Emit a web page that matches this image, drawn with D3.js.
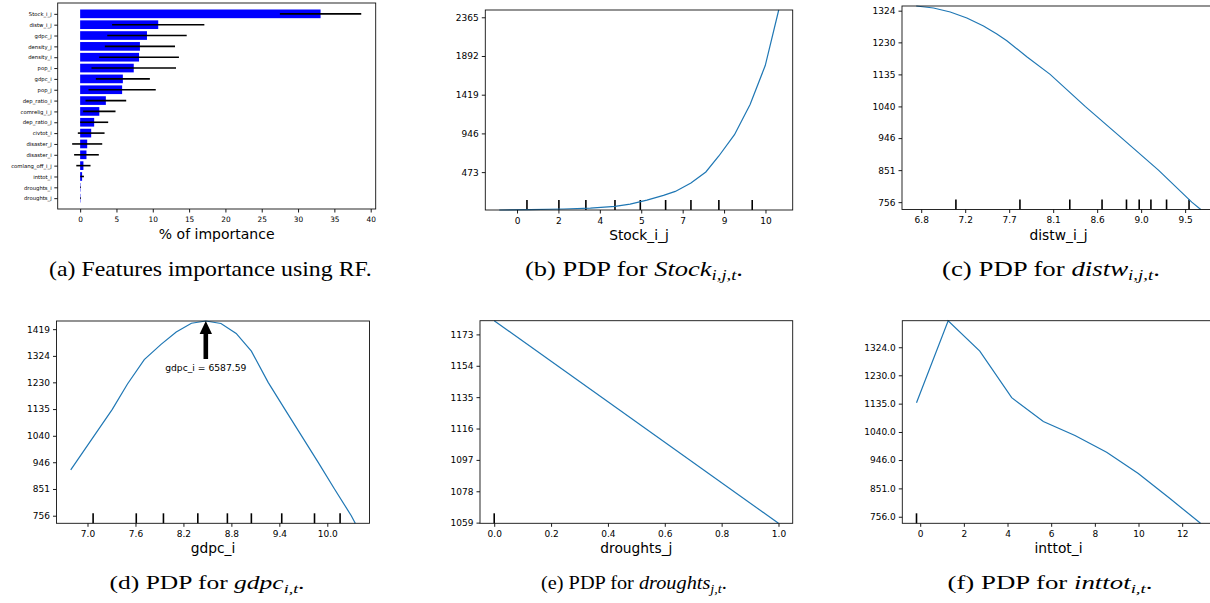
<!DOCTYPE html>
<html>
<head>
<meta charset="utf-8">
<script src="https://cdn.jsdelivr.net/npm/d3@7"></script>
<style>
  html, body { margin: 0; padding: 0; background: #fff; }
  svg { display: block; }
  .tick text { font-family: "DejaVu Sans", sans-serif; fill: #000; }
  .tick line { stroke: #000; stroke-width: 0.9; }
  .axis-label { font-family: "DejaVu Sans", sans-serif; fill: #000; }
  .caption { font-family: "Liberation Serif", "Times New Roman", serif; fill: #000; }
</style>
</head>
<body>
<svg id="fig" width="1210" height="603"></svg>
<script>
// (a) importance RF
const features = ["Stock_i_j", "distw_i_j", "gdpc_j", "density_j", "density_i", "pop_i", "gdpc_i", "pop_j",
  "dep_ratio_i", "comrelig_i_j", "dep_ratio_j", "civtot_i", "disaster_j", "disaster_i", "comlang_off_i_j",
  "inttot_i", "droughts_i", "droughts_j"];
const importance = [33.1, 10.75, 9.2, 8.23, 8.11, 7.38, 5.88, 5.78, 3.54, 2.64, 1.93, 1.52, 0.97, 0.87, 0.45, 0.27, 0.05, 0.05];
const importanceErr = [5.6, 6.35, 5.47, 4.83, 5.49, 5.82, 3.72, 4.63, 2.8, 2.23, 1.93, 1.84, 2.07, 1.7, 0.98, 0.25, 0.05, 0.05];
const importanceTicks = [0, 5, 10, 15, 20, 25, 30, 35, 40];

// (b) Stock_i_j
const stockX = [-0.75, 0.56, 1.97, 3.10, 4.14, 4.78, 5.49, 6.19, 6.69, 7.35, 7.98, 8.53, 9.19, 9.85, 10.49, 11.06];
const stockY = [10, 14, 22, 34, 55, 82, 130, 188, 237, 340, 475, 670, 930, 1300, 1775, 2454];
const stockRug = [0.42, 1.77, 2.91, 4.14, 5.21, 6.28, 7.35, 8.53, 9.94];
const stockXTicks = [0, 1.75, 3.5, 5.25, 7, 8.75, 10.5];
const stockXLabels = ["0", "2", "4", "5", "7", "9", "10"];
const stockYTicks = [473, 946, 1419, 1892, 2365];

// (c) distw_i_j
const distwX = [6.749, 6.926, 7.097, 7.267, 7.437, 7.574, 7.676, 7.880, 8.119, 8.477, 8.852, 9.227, 9.568, 9.660];
const distwY = [1337.9, 1332.0, 1320.1, 1302.3, 1278.5, 1254.8, 1235.0, 1187.5, 1135.1, 1040.1, 946.0, 851.0, 756.0, 734.2];
const distwRug = [7.155, 7.81, 8.32, 8.65, 8.90, 9.03, 9.15, 9.31, 9.54];
const distwXTicks = [6.8, 7.25, 7.7, 8.15, 8.6, 9.05, 9.5];
const distwXLabels = ["6.8", "7.2", "7.7", "8.1", "8.6", "9.0", "9.5"];
const pdpYTicks = [756, 851, 946, 1040, 1135, 1230, 1324];

// (d) gdpc_i
const gdpcX = [6.79, 7.08, 7.31, 7.50, 7.71, 7.92, 8.11, 8.30, 8.48, 8.67, 8.86, 9.05, 9.26, 9.47, 9.68, 9.89, 10.09, 10.30, 10.35];
const gdpcY = [919, 1039, 1134, 1224, 1311, 1365, 1409, 1440, 1448, 1439, 1404, 1341, 1230, 1134, 1039, 944, 851, 756, 729];
const gdpcRug = [7.07, 7.61, 7.95, 8.38, 8.75, 9.05, 9.43, 9.84, 10.16];
const gdpcXTicks = [7.0, 7.6, 8.2, 8.8, 9.4, 10.0];
const gdpcXLabels = ["7.0", "7.6", "8.2", "8.8", "9.4", "10.0"];
const gdpcYTicks = [756, 851, 946, 1040, 1135, 1230, 1324, 1419];
const gdpcNote = "gdpc_i = 6587.59";

// (e) droughts_j
const droughtsX = [0, 1];
const droughtsY = [1181.3, 1058.6];
const droughtsRug = [0];
const droughtsXTicks = [0, 0.2, 0.4, 0.6, 0.8, 1.0];
const droughtsXLabels = ["0.0", "0.2", "0.4", "0.6", "0.8", "1.0"];
const droughtsYTicks = [1059, 1078, 1097, 1116, 1135, 1154, 1173];

// (f) inttot_i
const inttotX = [-0.17, 1.28, 2.73, 4.19, 5.64, 7.09, 8.54, 9.99, 11.44, 12.84];
const inttotY = [1138, 1413, 1311, 1155, 1075, 1028, 972, 901, 817, 734];
const inttotRug = [-0.17];
const inttotXTicks = [0, 2, 4, 6, 8, 10, 12];
const inttotXLabels = ["0", "2", "4", "6", "8", "10", "12"];
const inttotYLabels = ["756.0", "851.0", "946.0", "1040.0", "1135.0", "1230.0", "1324.0"];

const svg = d3.select('#fig');

function frame(box) {
  svg.append('rect')
    .attr('x', box.left).attr('y', box.top)
    .attr('width', box.right - box.left).attr('height', box.bottom - box.top)
    .attr('fill', 'none').attr('stroke', '#111').attr('stroke-width', 0.9);
}

function xlabel(text, box, size) {
  svg.append('text').attr('class', 'axis-label')
    .attr('x', (box.left + box.right) / 2).attr('y', box.bottom + 30)
    .attr('text-anchor', 'middle').attr('font-size', size)
    .text(text);
}

// ---------- (a) bar chart ----------
const aBox = {left: 57.7, right: 375.7, top: 3, bottom: 209};
const lo = d3.min(importance, (d, i) => d - importanceErr[i]);
const hi = d3.max(importance, (d, i) => d + importanceErr[i]);
const xA = d3.scaleLinear().domain([lo - (hi - lo) * 0.05, hi + (hi - lo) * 0.05]).range([aBox.left, aBox.right]);
const yA = d3.scaleLinear().domain([-1, features.length]).range([aBox.top, aBox.bottom]);
const bh = yA(0.4) - yA(0);

svg.append('g').selectAll('rect').data(importance).join('rect')
  .attr('x', xA(0))
  .attr('y', (d, i) => yA(i) - bh)
  .attr('width', d => xA(d) - xA(0))
  .attr('height', bh * 2)
  .attr('fill', '#0000ff');

svg.append('g').selectAll('line').data(importance).join('line')
  .attr('x1', (d, i) => xA(d - importanceErr[i]))
  .attr('x2', (d, i) => xA(d + importanceErr[i]))
  .attr('y1', (d, i) => yA(i))
  .attr('y2', (d, i) => yA(i))
  .attr('stroke', '#000').attr('stroke-width', 1.6);

svg.append('g')
  .attr('transform', `translate(0,${aBox.bottom})`)
  .call(d3.axisBottom(xA).tickValues(importanceTicks).tickSize(3.5).tickPadding(4.5))
  .call(g => g.select('.domain').remove())
  .selectAll('text').attr('font-size', 7.4);

svg.append('g')
  .attr('transform', `translate(${aBox.left},0)`)
  .call(d3.axisLeft(yA).tickValues(d3.range(features.length)).tickFormat(i => features[i]).tickSize(3.4).tickPadding(2.6))
  .call(g => g.select('.domain').remove())
  .selectAll('text').attr('font-size', 5.3).attr('fill', '#222');

frame(aBox);
xlabel('% of importance', aBox, 14);

// ---------- PDP panels ----------
function pdp(cfg) {
  const {box, xs, ys, rug, xTicks, xLabels, yTicks, yLabels} = cfg;
  const [x0, x1] = d3.extent(xs);
  const m = (x1 - x0) * 0.05;
  const x = d3.scaleLinear().domain([x0 - m, x1 + m]).range([box.left, box.right]);
  const y = d3.scaleLinear().domain(d3.extent(ys)).range([box.bottom, box.top]);
  const g = svg.append('g');

  g.selectAll('.rug').data(rug).join('line')
    .attr('class', 'rug')
    .attr('x1', d => x(d)).attr('x2', d => x(d))
    .attr('y1', box.bottom).attr('y2', box.bottom - 10)
    .attr('stroke', '#000').attr('stroke-width', 1.6);

  g.append('path')
    .datum(xs.map((d, i) => [d, ys[i]]))
    .attr('fill', 'none').attr('stroke', '#1f77b4').attr('stroke-width', 1.2)
    .attr('d', d3.line().x(d => x(d[0])).y(d => y(d[1])));

  svg.append('g')
    .attr('transform', `translate(0,${box.bottom})`)
    .call(d3.axisBottom(x).tickValues(xTicks)
      .tickFormat((d, i) => xLabels[i])
      .tickSize(3.5).tickPadding(4.1))
    .call(g => g.select('.domain').remove())
    .selectAll('text').attr('font-size', 9);

  svg.append('g')
    .attr('transform', `translate(${box.left},0)`)
    .call(d3.axisLeft(y).tickValues(yTicks)
      .tickFormat((d, i) => yLabels ? yLabels[i] : String(d))
      .tickSize(3.5).tickPadding(3.1))
    .call(g => g.select('.domain').remove())
    .selectAll('text').attr('font-size', 9);

  frame(box);
  xlabel(cfg.label, box, 13.8);
  return {x, y};
}

pdp({box: {left: 485.3, right: 792.7, top: 10, bottom: 210}, xs: stockX, ys: stockY, rug: stockRug,
  xTicks: stockXTicks, xLabels: stockXLabels, yTicks: stockYTicks, label: 'Stock_i_j'});

pdp({box: {left: 902, right: 1215, top: 6, bottom: 209.5}, xs: distwX, ys: distwY, rug: distwRug,
  xTicks: distwXTicks, xLabels: distwXLabels, yTicks: pdpYTicks, label: 'distw_i_j'});

const pd = pdp({box: {left: 56.5, right: 369.5, top: 321, bottom: 523.3}, xs: gdpcX, ys: gdpcY, rug: gdpcRug,
  xTicks: gdpcXTicks, xLabels: gdpcXLabels, yTicks: gdpcYTicks, label: 'gdpc_i'});

pdp({box: {left: 480, right: 792.7, top: 320.7, bottom: 523.3}, xs: droughtsX, ys: droughtsY, rug: droughtsRug,
  xTicks: droughtsXTicks, xLabels: droughtsXLabels, yTicks: droughtsYTicks, label: 'droughts_j'});

pdp({box: {left: 902.3, right: 1214.7, top: 320.7, bottom: 523.3}, xs: inttotX, ys: inttotY, rug: inttotRug,
  xTicks: inttotXTicks, xLabels: inttotXLabels, yTicks: pdpYTicks, yLabels: inttotYLabels, label: 'inttot_i'});

// annotation arrow on (d)
const k = d3.maxIndex(gdpcY);
const tx = pd.x(gdpcX[k]), ty = pd.y(gdpcY[k]);
svg.append('path')
  .attr('d', `M${tx},${ty} L${tx + 6.2},${ty + 13} L${tx + 2.3},${ty + 13} L${tx + 2.3},${ty + 38}
    L${tx - 2.3},${ty + 38} L${tx - 2.3},${ty + 13} L${tx - 6.2},${ty + 13} Z`)
  .attr('fill', '#000');
svg.append('text').attr('class', 'axis-label')
  .attr('x', tx).attr('y', ty + 50)
  .attr('text-anchor', 'middle').attr('font-size', 9.2)
  .text(gdpcNote);

// ---------- captions ----------
function caption(cx, baseline, width, size, parts) {
  const t = svg.append('text').attr('class', 'caption').attr('font-size', size);
  let shift = 0;
  parts.forEach(p => {
    const s = t.append('tspan');
    if (p.sub) {
      s.attr('font-style', 'italic').attr('font-size', size * 0.7).attr('dy', size * 0.22 - shift);
      shift = size * 0.22;
    } else {
      if (shift) { s.attr('dy', -shift); shift = 0; }
      if (p.it) s.attr('font-style', 'italic');
    }
    s.text(p.t);
  });
  const w = t.node().getBBox().width;
  t.attr('transform', `translate(${cx - width / 2},${baseline}) scale(${width / w},1)`);
}

caption(210.5, 276, 323, 20, [{t: '(a) Features importance using RF.'}]);
caption(634, 276, 218, 20, [{t: '(b) PDP for '}, {t: 'Stock', it: true}, {t: 'i,j,t', sub: true}, {t: '.'}]);
caption(1051, 276, 218, 20, [{t: '(c) PDP for '}, {t: 'distw', it: true}, {t: 'i,j,t', sub: true}, {t: '.'}]);
caption(207, 589, 195, 19, [{t: '(d) PDP for '}, {t: 'gdpc', it: true}, {t: 'i,t', sub: true}, {t: '.'}]);
caption(634, 589, 186, 19, [{t: '(e) PDP for '}, {t: 'droughts', it: true}, {t: 'j,t', sub: true}, {t: '.'}]);
caption(1050, 589, 205, 19, [{t: '(f) PDP for '}, {t: 'inttot', it: true}, {t: 'i,t', sub: true}, {t: '.'}]);
</script>
</body>
</html>
